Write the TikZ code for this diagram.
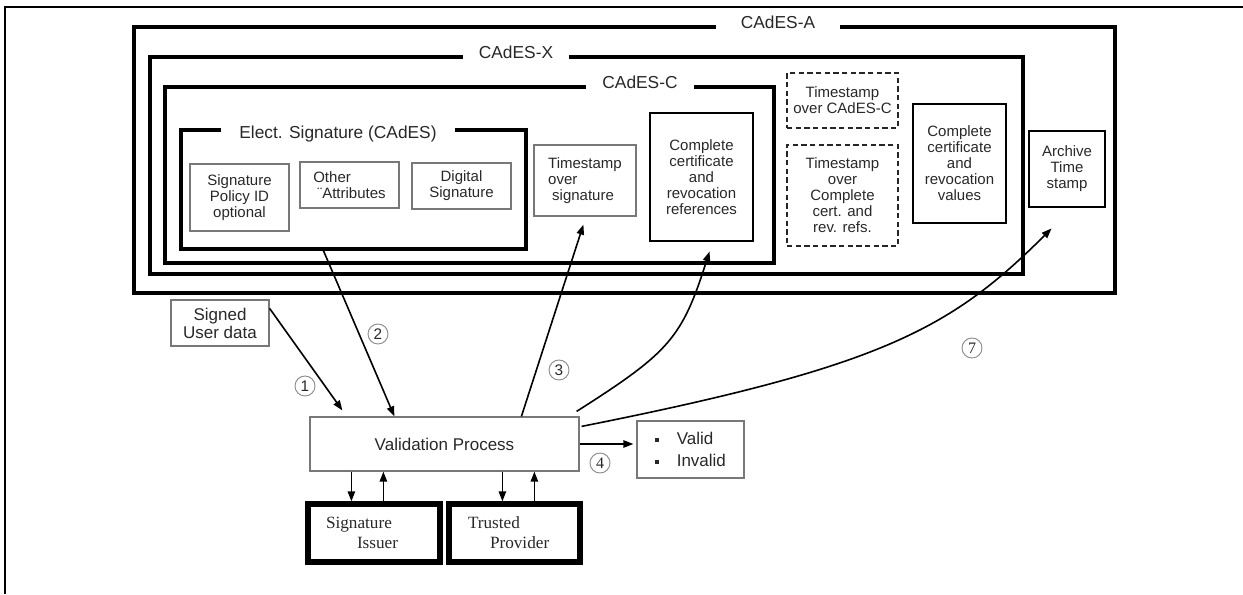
\documentclass[tikz,border=0pt]{standalone}
\usepackage{fontspec}
\setmainfont{Liberation Sans}
\newfontfamily\timesface{Liberation Serif}
\usetikzlibrary{arrows.meta,calc}
\newlength\pxu
\setlength\pxu{0.75pt}
\definecolor{ink}{RGB}{40,40,40}
\definecolor{thinline}{RGB}{120,120,120}
\definecolor{ringline}{RGB}{140,140,140}
\newcommand\sqbullet{\raisebox{2.2pt}{\rule{2.8pt}{2.8pt}}\hspace{13.5pt}}

\begin{document}
\begin{tikzpicture}[x=0.75pt,y=-0.75pt,
  wh/.style 2 args={minimum width=#1\pxu,minimum height=#2\pxu},
  framebox/.style={draw=black,line width=#1,inner sep=0pt},
  head/.style={fill=white,text=ink,font=\fontsize{13}{15}\selectfont,inner ysep=1.5pt},
  boxtext/.style={font=\fontsize{11.25}{12}\selectfont,text=ink,align=center,inner sep=0pt},
  boxthin/.style={draw=thinline,line width=0.9pt,boxtext},
  boxheavy/.style={draw=black,line width=2.2pt,boxtext},
  boxdash/.style={draw=black!85,line width=1.4pt,dash pattern=on 4pt off 2.5pt,boxtext},
  boxdouble/.style={draw=black,line width=2.4pt,text=ink,align=left,inner sep=2pt,
    font=\timesface\fontsize{12.9}{15}\selectfont},
  arr/.style={draw=black,line width=1.2pt,-{Triangle[length=7.5pt,width=5.5pt]}},
  num/.style={circle,draw=ringline,line width=0.7pt,minimum size=20\pxu,inner sep=0pt,
    text=ink,font=\fontsize{11.5}{11.5}\selectfont},
  numserif/.style={num,font=\timesface\fontsize{12}{12}\selectfont}]

\useasboundingbox (0,0) rectangle (1243,594);

% page frame
\draw[line width=1.5pt] (1243,7) -- (5,7) -- (5,594);

% nested signature formats
\node[framebox=3pt,wh={981}{266}] (cadesA) at (624.5,160) {};
\node[framebox=2.4pt,wh={873}{217}] (cadesX) at (586.5,165.5) {};
\node[framebox=2.4pt,wh={609}{176}] (cadesC) at (469.5,175) {};
\node[framebox=2.4pt,wh={345}{119}] (elect) at (353.5,189.5) {};

\node[head,inner xsep=25\pxu] (cadesA-label) at (778,22) {CAdES-A};
\node[head,inner xsep=16\pxu] (cadesX-label) at (516,52) {CAdES-X};
\node[head,inner xsep=16\pxu] (cadesC-label) at (640,82) {CAdES-C};
\node[head,inner xsep=18\pxu] (elect-label) at (338,134) {Elect. Signature (CAdES)};

% attributes of the electronic signature
\node[boxthin,wh={99}{67}] (policy) at (239.5,197.5) {Signature\\Policy ID\\optional};
\node[boxthin,wh={99}{46},align=left] (other) at (349.5,185) {Other\\\hspace*{4\pxu}¨Attributes};
\node[boxthin,wh={99}{46}] (digsig) at (461.5,186) {Digital\\Signature};

% CAdES-C content
\node[boxthin,wh={102}{71},align=left] (tsig) at (585,180.5) {Timestamp\\over\\\hspace*{4\pxu}signature};
\node[boxheavy,wh={103}{128}] (crefs) at (701.5,177) {Complete\\certificate\\and\\revocation\\references};

% CAdES-X content
\node[boxdash,wh={111}{55}] (tsC) at (842.5,100.5) {Timestamp\\over CAdES-C};
\node[boxdash,wh={111}{101}] (tsRefs) at (842.5,195.5) {Timestamp\\over\\Complete\\cert. and\\rev. refs.};
\node[boxheavy,wh={93}{119}] (cvals) at (959.5,163.5) {Complete\\certificate\\and\\revocation\\values};

% CAdES-A content
\node[boxheavy,wh={76}{76}] (archive) at (1067,169) {Archive\\Time\\stamp};

% validation
\node[boxthin,wh={98}{46},font=\fontsize{12.75}{13.5}\selectfont] (signed) at (220,323) {Signed\\User data};
\node[boxthin,wh={269}{54},font=\fontsize{12.75}{15}\selectfont] (vp) at (444.5,444) {Validation Process};
\node[boxthin,wh={107}{57},align=left,font=\fontsize{12.75}{16.5}\selectfont] (result) at (690.5,449.5)
  {\sqbullet Valid\\\sqbullet Invalid};

\node[boxdouble,wh={134}{60},text width=96\pxu] (issuer) at (374,533)
  {Signature\\\hspace*{31\pxu}Issuer};
\node[boxdouble,wh={133}{60},text width=93\pxu] (trusted) at (514.5,533)
  {Trusted\\\hspace*{22\pxu}Provider};
\draw[line width=1.1pt] ($(issuer.north west)+(4.8,4.8)$) rectangle ($(issuer.south east)+(-4.8,-4.8)$);
\draw[line width=1.1pt] ($(trusted.north west)+(4.8,4.8)$) rectangle ($(trusted.south east)+(-4.8,-4.8)$);

% flows
\draw[arr] ([yshift=-9\pxu]signed.north east) -- ([xshift=33\pxu,yshift=6\pxu]vp.north west);
\draw[arr] ([xshift=144\pxu]elect.south west) -- ([xshift=85\pxu]vp.north west);
\draw[arr] ([xshift=212\pxu]vp.north west) -- ([xshift=50\pxu,yshift=-8\pxu]tsig.south west);
\draw[arr] ([xshift=-3\pxu,yshift=5\pxu]vp.north east)
  .. controls (670,352) and (682,338) .. ([xshift=61\pxu,yshift=-9\pxu]crefs.south west);
\draw[arr] ([xshift=2\pxu,yshift=-10\pxu]vp.north east)
  .. controls (880,367) and (950,330) .. ([xshift=24\pxu,yshift=-20\pxu]archive.south west);
\draw[arr] (vp.east) -- ([xshift=-3\pxu]vp.east -| result.west);

\draw[arr] ([xshift=46\pxu]issuer.north west |- vp.south) -- ([xshift=46\pxu]issuer.north west);
\draw[arr] ([xshift=78\pxu]issuer.north west) -- ([xshift=78\pxu]issuer.north west |- vp.south);
\draw[arr] ([xshift=56\pxu]trusted.north west |- vp.south) -- ([xshift=56\pxu]trusted.north west);
\draw[arr] ([xshift=88\pxu]trusted.north west) -- ([xshift=88\pxu]trusted.north west |- vp.south);

% step numbers
\node[num] (n1) at (305,386) {1};
\node[num] (n2) at (378,334) {2};
\node[num] (n3) at (559,370) {3};
\node[numserif] (n4) at (600,463) {4};
\node[numserif] (n7) at (972,348) {7};
\end{tikzpicture}
\end{document}
